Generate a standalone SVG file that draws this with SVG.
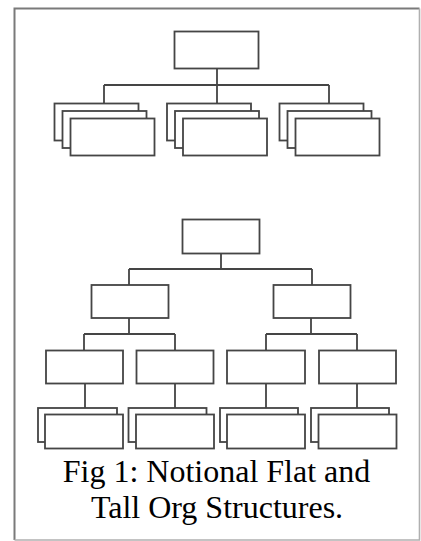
<svg xmlns="http://www.w3.org/2000/svg" width="421" height="541" viewBox="0 0 421 541">
  <style>
    .frame-dark { fill: none; stroke: #7a7a7a; stroke-width: 2; }
    .frame-light { fill: none; stroke: #b0b0b0; stroke-width: 1.6; }
    .box { fill: #ffffff; stroke: #444444; stroke-width: 1.8; }
    .link { fill: none; stroke: #444444; stroke-width: 1.8; }
    .caption { font-family: "Liberation Serif", "Times New Roman", serif; font-size: 32px; fill: #000000; text-anchor: middle; }
  </style>
  <defs>
    <filter id="soft" x="-5%" y="-5%" width="110%" height="110%">
      <feGaussianBlur stdDeviation="0.45"/>
    </filter>
  </defs>

  <!-- outer frame: left and top edges darker, right and bottom lighter -->
  <path class="frame-dark" d="M14.5 540 V8.5 H419.5"/>
  <path class="frame-light" d="M419.5 8.5 V540 H14.5"/>

  <g filter="url(#soft)">
    <!-- connectors -->
    <g id="connectors">
      <!-- flat structure -->
      <path class="link" d="M217 68 V85 M104 85 H329 M104 85 V103 M217 85 V103 M329 85 V103"/>
      <!-- tall structure: top to level 2 -->
      <path class="link" d="M221 253 V269 M129 269 H312 M129 269 V285 M312 269 V285"/>
      <!-- level 2 to level 3 -->
      <path class="link" d="M129 318 V334 M84 334 H175 M84 334 V350 M175 334 V350"/>
      <path class="link" d="M311 318 V334 M266 334 H357 M266 334 V350 M357 334 V350"/>
      <!-- level 3 to level 4 -->
      <path class="link" d="M85 384 V408 M175 384 V408 M266 384 V408 M357 384 V408"/>
    </g>

    <!-- flat structure -->
    <g id="flat-head"><rect class="box" x="174.5" y="31.5" width="84" height="37"/></g>
    <g id="flat-team-1">
      <rect class="box" x="54.5" y="103.5" width="84" height="37"/>
      <rect class="box" x="62.5" y="111" width="84" height="37"/>
      <rect class="box" x="70.5" y="118.5" width="84" height="37"/>
    </g>
    <g id="flat-team-2">
      <rect class="box" x="167" y="103.5" width="84" height="37"/>
      <rect class="box" x="175" y="111" width="84" height="37"/>
      <rect class="box" x="183" y="118.5" width="84" height="37"/>
    </g>
    <g id="flat-team-3">
      <rect class="box" x="279.5" y="103.5" width="84" height="37"/>
      <rect class="box" x="287.5" y="111" width="84" height="37"/>
      <rect class="box" x="295.5" y="118.5" width="84" height="37"/>
    </g>

    <!-- tall structure -->
    <g id="tall-head"><rect class="box" x="182.5" y="219.5" width="77" height="34"/></g>
    <g id="tall-mid-left"><rect class="box" x="91.5" y="285" width="77" height="33"/></g>
    <g id="tall-mid-right"><rect class="box" x="273.5" y="285" width="77" height="33"/></g>
    <g id="tall-low-1"><rect class="box" x="46" y="350.5" width="77" height="33"/></g>
    <g id="tall-low-2"><rect class="box" x="136.5" y="350.5" width="77" height="33"/></g>
    <g id="tall-low-3"><rect class="box" x="227" y="350.5" width="78" height="33"/></g>
    <g id="tall-low-4"><rect class="box" x="319" y="350.5" width="77" height="33"/></g>
    <g id="tall-team-1">
      <rect class="box" x="38" y="408" width="79" height="34"/>
      <rect class="box" x="45" y="414.5" width="78" height="34"/>
    </g>
    <g id="tall-team-2">
      <rect class="box" x="128.5" y="408" width="78" height="34"/>
      <rect class="box" x="136" y="414.5" width="78" height="34"/>
    </g>
    <g id="tall-team-3">
      <rect class="box" x="220" y="408" width="78" height="34"/>
      <rect class="box" x="227" y="414.5" width="78" height="34"/>
    </g>
    <g id="tall-team-4">
      <rect class="box" x="311" y="408" width="78" height="34"/>
      <rect class="box" x="318.5" y="414.5" width="78" height="34"/>
    </g>
  </g>

  <text class="caption" x="216.5" y="482">Fig 1: Notional Flat and</text>
  <text class="caption" x="217" y="518">Tall Org Structures.</text>
</svg>
